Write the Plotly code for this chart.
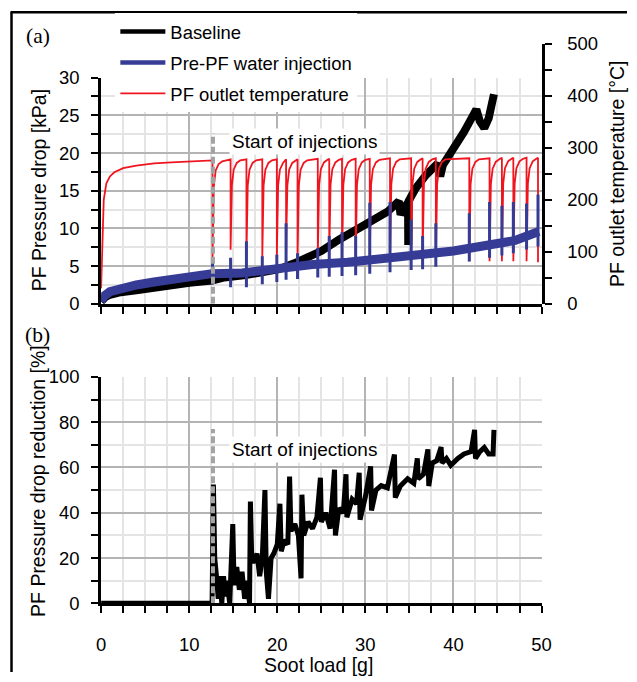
import plotly.graph_objects as go

# ---------------- data ----------------
# (a) baseline pressure drop [kPa] vs soot load [g]
baseline_x = [0, 0.2, 0.5, 1, 2, 4, 6, 8, 10, 12.6, 14, 16.4, 18, 20.2, 22, 23.5, 25, 27, 29,
              30.8, 32.5, 33.8, 34.0, 34.4, 34.85, 34.87, 34.9, 35.7, 36.9, 38.2, 38.5, 38.8,
              40.1, 41.2, 42.0, 42.6, 43.0, 43.5, 44.0, 44.3, 44.6]
baseline_kpa = [0.3, 0.6, 0.9, 1.2, 1.5, 1.8, 2.2, 2.5, 2.8, 3.1, 3.5, 3.8, 4.2, 4.6, 5.4, 6.3, 7.0, 8.5, 9.8,
                10.9, 12.2, 13.6, 11.8, 12.8, 13.4, 7.8, 13.6, 15.3, 17.1, 18.6, 16.9, 18.4,
                20.6, 22.8, 24.5, 25.8, 24.2, 23.3, 24.6, 25.8, 27.8]

# (a) pre-PF water injection: underlying pressure-drop band [kPa]
water_x = [0, 0.3, 1, 2, 4, 6, 8, 10, 12.6, 16, 20, 24, 28, 32, 36, 40, 44, 47, 49.7]
water_kpa = [0.3, 1.0, 1.6, 2.0, 2.5, 2.9, 3.3, 3.6, 4.0, 4.1, 4.7, 5.2, 5.5, 5.9, 6.4, 7.0, 7.8, 8.4, 9.6]

# injection events: soot load [g], pressure spike top / dip bottom [kPa]
inj_x = [12.65, 14.7, 16.5, 18.3, 19.95, 21.0, 22.3, 24.6, 25.9, 27.35, 28.9,
         30.5, 32.8, 35.2, 36.5, 38.0, 41.8, 44.1, 45.5, 46.8, 48.3, 49.6]
inj_peak_kpa = [6.1, 6.1, 8.3, 6.3, 6.5, 10.7, 6.7, 7.4, 9.0, 9.5, 9.0,
                13.4, 13.5, 11.2, 9.0, 10.7, 12.0, 13.5, 13.0, 13.5, 13.3, 14.5]
inj_low_kpa = [2.6, 2.2, 2.2, 2.6, 2.9, 3.2, 3.3, 3.5, 3.6, 3.7, 3.8,
               4.0, 4.2, 4.5, 4.6, 4.9, 5.6, 6.1, 6.4, 6.7, 7.2, 7.6]

# (a) PF outlet temperature [°C]
warmup_x = [0, 0.05, 0.15, 0.3, 0.6, 1.0, 1.5, 2.5, 4, 6, 8, 10, 12.6]
warmup_c = [30, 60, 150, 200, 232, 245, 253, 261, 266, 270, 272, 274, 276]
temp_plateau_c = [276, 278, 278, 278, 278, 278, 278, 279, 279, 279, 279,
                  279, 280, 280, 280, 280, 280, 280, 281, 281, 281, 281]
temp_min_c = [88, 104, 92, 90, 90, 90, 90, 88, 88, 86, 86,
              86, 86, 86, 86, 80, 82, 82, 82, 82, 82, 80]
# temperature recovery after each injection (offset [g], degrees below plateau)
recovery_dx = [0.06, 0.15, 0.35, 0.7, 1.1]
recovery_below_c = [120, 50, 20, 7, 2]

# (b) pressure drop reduction [%]
reduction_x = [0, 12.6, 12.75, 12.9, 13.1, 13.3, 13.5, 13.7, 13.9, 14.1, 14.3, 14.6, 14.95, 15.1,
               15.4, 15.7, 16.0, 16.3, 16.6, 16.85, 16.95, 17.1, 17.4, 17.7, 18.0, 18.3, 18.6,
               18.75, 19.0, 19.3, 19.6, 20.0, 20.3, 20.45, 20.8, 21.2, 21.4, 21.55, 22.0, 22.4,
               22.7, 22.8, 23.0, 23.5, 24.0, 24.5, 24.9, 25.0, 25.5, 26.0, 26.5, 26.6, 27.0,
               27.5, 27.8, 27.9, 28.5, 29.0, 29.3, 29.4, 30.0, 30.6, 30.7, 31.2, 31.8, 32.5,
               33.3, 33.4, 34.0, 34.8, 35.5, 35.9, 36.0, 36.6, 37.1, 37.2, 37.6, 38.1, 38.6,
               38.7, 39.2, 39.7, 40.5, 41.2, 42.0, 42.4, 42.5, 43.0, 43.5, 44.0, 44.5, 44.6]
reduction_pct = [0, 0, 52.5, 20, 12, 2, 12, 0, 12, 3, 10, 0, 35, 8,
                 16, 6, 14, 2, 10, 0, 45, 20, 18, 22, 12, 20, 50,
                 14, 2, 20, 22, 26, 44, 23, 28, 26, 56, 32, 35, 30,
                 11, 48, 30, 36, 33, 38, 55.5, 36, 40, 33, 59, 30, 42,
                 40, 57, 38, 46, 44, 57.7, 37, 47, 60.5, 41, 50, 52, 51,
                 65.7, 46.7, 52, 55, 53, 64, 55, 57, 68, 51.8, 62, 63, 69,
                 62, 64, 61, 64, 66, 67, 76.6, 64, 67, 68.8, 66, 66, 76.6]

start_inj_x = 12.7
start_line_top_kpa = 22.6
start_line_top_pct = 77

legend_names = ["Baseline", "Pre-PF water injection", "PF outlet temperature"]

# ---------------- styling ----------------
BLACK = "#000000"
BLUE = "#363c96"
RED = "#f0141e"
GREY_DASH = "#a3a3a3"
GRID_MAJOR = "#b4b4b4"
GRID_MINOR = "#e4e4e4"
FONT = "Liberation Sans, Arial, sans-serif"

W, H = 637, 682
# the photographed page shows the figure slightly reduced and offset;
# layout positions below are given in picture pixels and converted back
SX, SY = 637 / 653, 682 / 698
OX, OY = 4.5, 8 * SY
FS = 1 / SX  # font compensation


def fpx(p):
    return (p - OX) / SX


def fpy(p):
    return (p - OY) / SY


def fx(p):
    return fpx(p) / W


def fy(p):
    return 1 - fpy(p) / H


# assemble temperature trace from warm-up + injection events
temp_x = list(warmup_x)
temp_c = list(warmup_c)
for i, x0 in enumerate(inj_x):
    temp_x += [x0, x0]
    temp_c += [temp_plateau_c[i], temp_min_c[i]]
    if i + 1 >= len(inj_x):
        break
    nxt = inj_x[i + 1]
    for dx, below in zip(recovery_dx, recovery_below_c):
        if x0 + dx < nxt - 0.03:
            temp_x.append(x0 + dx)
            temp_c.append(temp_plateau_c[i] - below)

# injection spikes on the water-injection pressure trace
spike_x, spike_y = [], []
for x0, lo, hi in zip(inj_x, inj_low_kpa, inj_peak_kpa):
    spike_x += [x0, x0, None]
    spike_y += [lo, hi, None]

fig = go.Figure()

# legend entries
fig.add_trace(go.Scatter(x=[None], y=[None], mode="lines", name=legend_names[0],
                         line=dict(color=BLACK, width=4.5), legendgroup="a", xaxis="x", yaxis="y"))
fig.add_trace(go.Scatter(x=[None], y=[None], mode="lines", name=legend_names[1],
                         line=dict(color=BLUE, width=4.5), legendgroup="b", xaxis="x", yaxis="y"))
fig.add_trace(go.Scatter(x=[None], y=[None], mode="lines", name=legend_names[2],
                         line=dict(color=RED, width=1.6), legendgroup="c", xaxis="x", yaxis="y"))

# baseline (bottom layer)
fig.add_trace(go.Scatter(x=baseline_x, y=baseline_kpa, mode="lines", showlegend=False,
                         line=dict(color=BLACK, width=8), xaxis="x", yaxis="y"))
# temperature
fig.add_trace(go.Scatter(x=temp_x, y=temp_c, mode="lines", showlegend=False,
                         line=dict(color=RED, width=1.8), xaxis="x2", yaxis="y2"))
# water-injection pressure band and spikes (on top)
fig.add_trace(go.Scatter(x=water_x, y=water_kpa, mode="lines", showlegend=False,
                         line=dict(color=BLUE, width=9), xaxis="x2", yaxis="y3"))
fig.add_trace(go.Scatter(x=spike_x, y=spike_y, mode="lines", showlegend=False,
                         line=dict(color=BLUE, width=3), xaxis="x2", yaxis="y3"))
# start-of-injections marker (a)
fig.add_trace(go.Scatter(x=[start_inj_x, start_inj_x], y=[0, start_line_top_kpa], mode="lines",
                         showlegend=False, line=dict(color=GREY_DASH, width=4, dash="7px,3px"),
                         xaxis="x2", yaxis="y3"))

# (b)
fig.add_trace(go.Scatter(x=reduction_x, y=reduction_pct, mode="lines", showlegend=False,
                         line=dict(color=BLACK, width=5), xaxis="x3", yaxis="y4"))
fig.add_trace(go.Scatter(x=[start_inj_x, start_inj_x], y=[0, start_line_top_pct], mode="lines",
                         showlegend=False, line=dict(color=GREY_DASH, width=4, dash="7px,3px"),
                         xaxis="x3", yaxis="y4"))

x_dom = [fx(100.5), fx(540.5)]
tickfont = dict(family=FONT, size=18 * FS, color="black")


def xax(**kw):
    d = dict(domain=x_dom, range=[0, 50], autorange=False, dtick=10, tick0=0,
             showline=True, linewidth=3, linecolor="black", zeroline=False,
             ticks="outside", ticklen=7, tickwidth=1.5, tickcolor="black",
             showgrid=True, gridcolor=GRID_MAJOR, gridwidth=1.5,
             minor=dict(dtick=2.5, ticks="outside", ticklen=7, tickwidth=1.5, tickcolor="black",
                        showgrid=True, gridcolor=GRID_MINOR, gridwidth=1.5),
             tickfont=tickfont, fixedrange=True)
    d.update(kw)
    return d


def yax(dtick, minor_dtick, **kw):
    d = dict(autorange=False, dtick=dtick, tick0=0,
             showline=True, linewidth=3, linecolor="black", zeroline=False,
             ticks="outside", ticklen=7, tickwidth=1.5, tickcolor="black",
             showgrid=True, gridcolor=GRID_MAJOR, gridwidth=1.5,
             minor=dict(dtick=minor_dtick, ticks="outside", ticklen=7, tickwidth=1.5,
                        tickcolor="black", showgrid=True, gridcolor=GRID_MINOR, gridwidth=1.5),
             tickfont=tickfont, fixedrange=True)
    d.update(kw)
    return d


top_y_dom = [fy(303), fy(75)]
right_y_dom = [fy(303), fy(41)]
kpa_overlay_top = 30 * (303 - 41) / (303 - 75)

fig.update_layout(
    width=W, height=H, margin=dict(l=0, r=0, t=0, b=0),
    paper_bgcolor="white", plot_bgcolor="rgba(0,0,0,0)",
    font=dict(family=FONT, size=18 * FS, color="black"),
    xaxis=xax(anchor="y", showticklabels=False),
    yaxis=yax(5, 2.5, domain=top_y_dom, range=[0, 30], anchor="x", ticklabelstandoff=8),
    xaxis2=dict(domain=x_dom, range=[0, 50], autorange=False, anchor="y2", visible=False,
                fixedrange=True),
    yaxis2=yax(100, 50, domain=right_y_dom, range=[0, 500], anchor="x2", side="right",
               showgrid=False, minor=dict(dtick=50, ticks="outside", ticklen=7, tickwidth=1.5,
                                          tickcolor="black", showgrid=False),
               ticklabelstandoff=12),
    yaxis3=dict(overlaying="y2", anchor="x2", range=[0, kpa_overlay_top], autorange=False,
                visible=False, fixedrange=True),
    xaxis3=xax(anchor="y4", showticklabels=True, ticklabelstandoff=15),
    yaxis4=yax(20, 10, domain=[fy(605), fy(376.7)], range=[0, 100], anchor="x3",
               ticklabelstandoff=8),
    showlegend=True,
    legend=dict(x=113 / W, y=1 - 2 / H, xanchor="left", yanchor="top", bgcolor="white",
                borderwidth=0, font=dict(family=FONT, size=18 * FS, color="black"),
                itemwidth=45, tracegroupgap=4, traceorder="grouped"),
)

ann_font = dict(family=FONT, size=18.5 * FS, color="black")
title_font = dict(family=FONT, size=19 * FS, color="black")
serif = dict(family="Liberation Serif, Times New Roman, serif", size=21 * FS, color="black")
annotations = [
    dict(text="(a)", x=fx(37), y=fy(33), font=serif),
    dict(text="(b)", x=fx(37), y=fy(334), font=serif),
    dict(text="Start of injections", x=fx(304), y=fy(139), bgcolor="white", borderpad=2, font=ann_font),
    dict(text="Start of injections", x=fx(304), y=fy(450), bgcolor="white", borderpad=2, font=ann_font),
    dict(text="PF Pressure drop [kPa]", x=fx(38), y=fy(189), textangle=-90, font=title_font),
    dict(text="PF outlet temperature [°C]", x=fx(616), y=fy(172), textangle=-90, font=title_font),
    dict(text="PF Pressure drop reduction [%]", x=fx(38), y=fy(482), textangle=-90, font=title_font),
    dict(text="Soot load [g]", x=fx(318), y=fy(667), font=title_font),
]
for a in annotations:
    a.update(xref="paper", yref="paper", showarrow=False, xanchor="center", yanchor="middle")
fig.update_layout(annotations=annotations)

# outer frame (top and left edges)
fig.update_layout(shapes=[
    dict(type="line", xref="paper", yref="paper", x0=fx(10), x1=1, y0=1 - 1.2 / H, y1=1 - 1.2 / H,
         line=dict(color="black", width=2.5)),
    dict(type="line", xref="paper", yref="paper", x0=fx(11), x1=fx(11), y0=1 - 1.2 / H, y1=0,
         line=dict(color="black", width=2.5)),
])

fig.write_html("out.html")
